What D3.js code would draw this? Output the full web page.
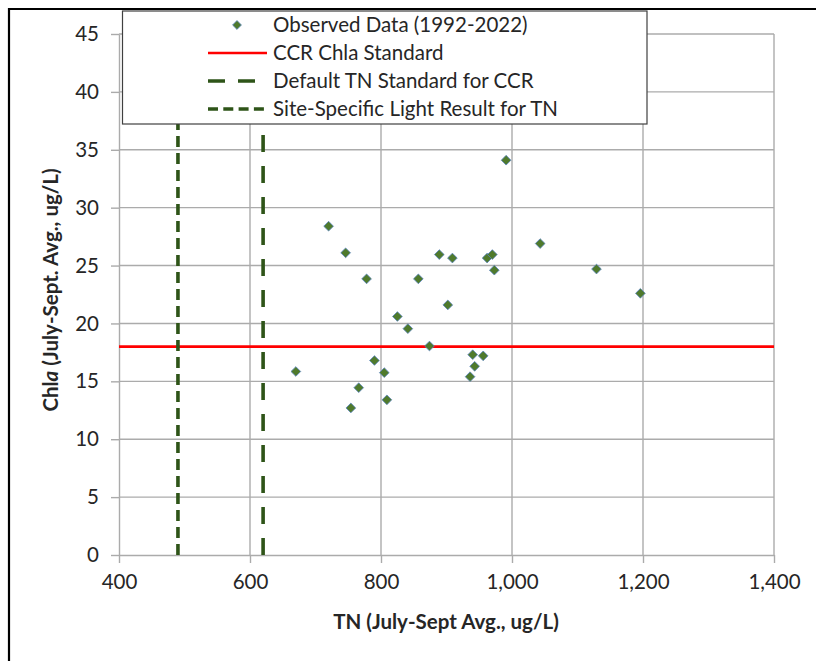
<!DOCTYPE html>
<html><head><meta charset="utf-8">
<script src="https://cdn.jsdelivr.net/npm/d3@7"></script>
<style>body{margin:0;background:#fff;} svg{display:block;font-family:Lato,"Open Sans",sans-serif;}</style>
</head><body>
<svg id="c" width="816" height="661"></svg>
<script>
// Data
const tnValues  = [991, 720, 746, 778, 857, 889, 909, 962, 970, 973, 902, 825, 841, 874, 940, 956, 943, 936, 790, 805, 670, 766, 754, 809, 1043, 1129, 1196];
const chlaValues= [34.1, 28.4, 26.1, 23.85, 23.85, 25.95, 25.65, 25.65, 25.95, 24.6, 21.6, 20.6, 19.55, 18.05, 17.3, 17.2, 16.3, 15.4, 16.8, 15.75, 15.85, 14.45, 12.7, 13.4, 26.9, 24.7, 22.6];
const chlaStandard = 18;
const defaultTN = 620;
const siteSpecificTN = 490;
const xTicks = [400, 600, 800, 1000, 1200, 1400];
const yTicks = [0, 5, 10, 15, 20, 25, 30, 35, 40, 45];
const legendLabels = ["Observed Data (1992-2022)", "CCR Chla Standard", "Default TN Standard for CCR", "Site-Specific Light Result for TN"];

const svg = d3.select("#c");
const x = d3.scaleLinear().domain([400, 1400]).range([119, 774]);
const y = d3.scaleLinear().domain([0, 45]).range([555, 34]);
const grid = "#ababab", green = "#2e5418", txt = "#262626";
const fs = "20.5px";

// outer frame (only top and left visible)
svg.append("path").attr("d","M9,661V9H816").attr("fill","none").attr("stroke","#000").attr("stroke-width",2.2);

// gridlines
svg.append("g").selectAll("line").data(yTicks.filter(d=>d>0)).join("line")
  .attr("x1", x(400)).attr("x2", x(1400)).attr("y1", d=>y(d)).attr("y2", d=>y(d))
  .attr("stroke", grid).attr("stroke-width", 1.4);
svg.append("g").selectAll("line").data(xTicks.filter(d=>d>400)).join("line")
  .attr("x1", d=>x(d)).attr("x2", d=>x(d)).attr("y1", y(0)).attr("y2", y(45))
  .attr("stroke", grid).attr("stroke-width", 1.4);

// axes
const xAxis = d3.axisBottom(x).tickValues(xTicks).tickFormat(d3.format(",")).tickSizeInner(8).tickSizeOuter(0).tickPadding(11);
const yAxis = d3.axisLeft(y).tickValues(yTicks).tickSizeInner(8).tickSizeOuter(0).tickPadding(12);
const gx = svg.append("g").attr("transform",`translate(0,${y(0)})`).call(xAxis);
const gy = svg.append("g").attr("transform",`translate(${x(400)},0)`).call(yAxis);
[gx, gy].forEach(g=>{
  g.select(".domain").attr("stroke", grid).attr("stroke-width",1.4);
  g.selectAll(".tick line").attr("stroke", grid).attr("stroke-width",1.4);
  g.selectAll(".tick text").attr("fill", txt).style("font-size",fs).style("font-family","Lato, sans-serif");
});

// standard lines
svg.append("line").attr("x1", x(400)).attr("x2", x(1400)).attr("y1", y(chlaStandard)).attr("y2", y(chlaStandard))
  .attr("stroke", "#ff0000").attr("stroke-width", 2.6);
svg.append("line").attr("x1", x(siteSpecificTN)).attr("x2", x(siteSpecificTN)).attr("y1", y(0)).attr("y2", y(45))
  .attr("stroke", green).attr("stroke-width", 3.6).attr("stroke-dasharray","11,6");
svg.append("line").attr("x1", x(defaultTN)).attr("x2", x(defaultTN)).attr("y1", y(0)).attr("y2", y(45))
  .attr("stroke", green).attr("stroke-width", 3.6).attr("stroke-dasharray","17,14");

// points
const diamond = d3.symbol().type(d3.symbolDiamond2).size(60);
svg.append("g").selectAll("path").data(tnValues.map((t,i)=>[t, chlaValues[i]])).join("path")
  .attr("d", diamond).attr("transform", d=>`translate(${x(d[0])},${y(d[1])})`)
  .attr("fill", "#4f7a2c").attr("stroke", "#5b84c0").attr("stroke-width", 0.8);

// legend
const lg = svg.append("g");
lg.append("rect").attr("x",122.5).attr("y",11).attr("width",524.5).attr("height",113)
  .attr("fill","#fff").attr("stroke","#404040").attr("stroke-width",1.2);
const rowsY = [25, 53, 81, 109];
lg.append("path").attr("d", d3.symbol().type(d3.symbolDiamond2).size(50)).attr("transform",`translate(237,${rowsY[0]})`)
  .attr("fill","#4f7a2c").attr("stroke","#5b84c0").attr("stroke-width",0.8);
lg.append("line").attr("x1",208).attr("x2",267).attr("y1",rowsY[1]).attr("y2",rowsY[1]).attr("stroke","#ff0000").attr("stroke-width",2.4);
lg.append("line").attr("x1",208).attr("x2",267).attr("y1",rowsY[2]).attr("y2",rowsY[2]).attr("stroke",green).attr("stroke-width",3.6).attr("stroke-dasharray","17,13");
lg.append("line").attr("x1",208).attr("x2",267).attr("y1",rowsY[3]).attr("y2",rowsY[3]).attr("stroke",green).attr("stroke-width",3.6).attr("stroke-dasharray","10,5.3");
lg.selectAll("text").data(legendLabels).join("text")
  .attr("x",273).attr("y",(d,i)=>rowsY[i]).attr("dy","0.35em")
  .attr("fill",txt).style("font-size",fs).text(d=>d);

// axis titles
svg.append("text").attr("x",446).attr("y",622).attr("dy","0.35em").attr("text-anchor","middle")
  .attr("fill",txt).style("font-size",fs).style("font-weight","bold").text("TN (July-Sept Avg., ug/L)");
const yt = svg.append("text").attr("transform","translate(51,290) rotate(-90)").attr("text-anchor","middle").attr("dy","0.35em")
  .attr("fill",txt).style("font-size",fs).style("font-weight","bold");
yt.append("tspan").text("Chl");
yt.append("tspan").style("font-style","italic").text("a");
yt.append("tspan").text(" (July-Sept. Avg., ug/L)");
</script>
</body></html>
